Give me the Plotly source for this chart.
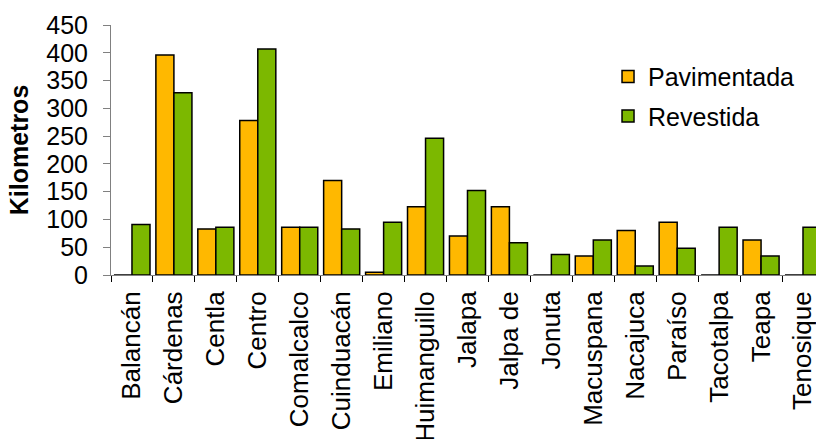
import plotly.graph_objects as go

municipios = ["Balancán", "Cárdenas", "Centla", "Centro", "Comalcalco", "Cuinduacán",
              "Emiliano", "Huimanguillo", "Jalapa", "Jalpa de", "Jonuta", "Macuspana",
              "Nacajuca", "Paraíso", "Tacotalpa", "Teapa", "Tenosique"]
pavimentada = [0, 396, 83, 278, 86, 170, 5, 123, 70, 123, 0, 34, 80, 95, 0, 63, 0]
revestida = [91, 328, 86, 407, 86, 83, 95, 246, 152, 58, 37, 63, 16, 48, 86, 34, 86]
y_ticks = [0, 50, 100, 150, 200, 250, 300, 350, 400, 450]

FONT = "Liberation Sans, Arial, sans-serif"

fig = go.Figure()
fig.add_trace(go.Bar(
    x=municipios, y=pavimentada, name="Pavimentada", legendgroup="a",
    marker=dict(color="#FFB800", line=dict(color="black", width=1.5)),
))
fig.add_trace(go.Bar(
    x=municipios, y=revestida, name="Revestida", legendgroup="b",
    marker=dict(color="#7CB800", line=dict(color="black", width=1.5)),
))

fig.update_layout(
    width=816, height=439,
    margin=dict(l=111, r=0, t=25, b=164),
    paper_bgcolor="white", plot_bgcolor="white",
    barmode="group", bargap=0.14, bargroupgap=0.0,
    font=dict(family=FONT, size=25, color="black"),
    showlegend=True,
    legend=dict(x=0.705, y=0.885, xanchor="left", yanchor="top",
                font=dict(size=25), bgcolor="rgba(0,0,0,0)",
                itemwidth=30,
                tracegroupgap=4, traceorder="grouped"),
)
fig.update_xaxes(
    type="category", range=[-0.5, 16.31], automargin=False,
    showline=True, linecolor="#808080", linewidth=1,
    ticks="outside", ticklen=6, tickcolor="black", tickson="boundaries",
    tickangle=-90, tickfont=dict(size=26, family=FONT), ticklabelstandoff=5,
    showgrid=False, zeroline=False,
)
fig.update_yaxes(
    range=[0, 450], tickvals=y_ticks, automargin=False,
    showline=True, linecolor="#808080", linewidth=1,
    ticks="outside", ticklen=7, tickcolor="#808080",
    tickfont=dict(size=25, family=FONT), ticklabelstandoff=10,
    showgrid=False, zeroline=False,
    title=dict(text="<b>Kilometros</b>", font=dict(size=25, family=FONT), standoff=10),
)

fig.write_html("out.html")
